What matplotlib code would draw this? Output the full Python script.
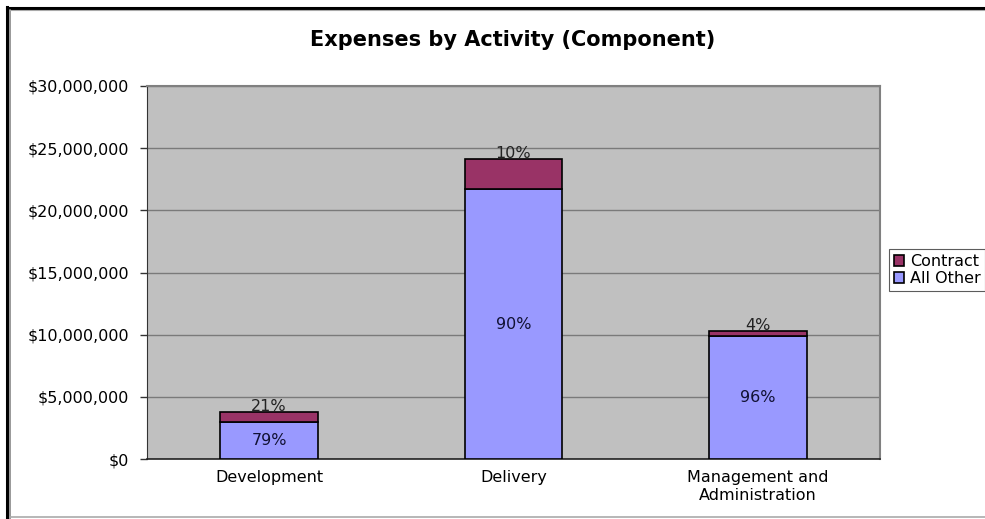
import matplotlib.pyplot as plt
from matplotlib.lines import Line2D
from matplotlib.ticker import FuncFormatter
import numpy as np

categories = ['Development', 'Delivery', 'Management and\nAdministration']
all_other = [3.0e6, 21.7e6, 9.9e6]
contract = [0.8e6, 2.4e6, 0.4e6]

plt.rcParams['font.family'] = ['DejaVu Sans']

fig = plt.figure(figsize=(9.85, 5.19), dpi=100)
ax = fig.add_axes([147 / 985, 1 - 459 / 519, 733 / 985, 373 / 519])
ax.set_facecolor('#C0C0C0')

x = np.arange(len(categories))
totals = np.array(all_other) + np.array(contract)
b1 = ax.bar(x, all_other, width=0.4, color='#9999FF', edgecolor='black',
            linewidth=1.2, label='All Other', zorder=3)
b2 = ax.bar(x, contract, width=0.4, bottom=all_other, color='#993366',
            edgecolor='black', linewidth=1.2, label='Contract', zorder=3)

# percentage labels: share inside the lower segment, contract share above the bar
for i in range(len(categories)):
    p_other = round(100 * all_other[i] / totals[i])
    p_con = round(100 * contract[i] / totals[i])
    ax.text(x[i], all_other[i] / 2, f'{p_other}%', ha='center', va='center',
            fontsize=11.5, color='#111133', zorder=4)
    ax.annotate(f'{p_con}%', (x[i], totals[i]), xytext=(0, -1.5),
                textcoords='offset points', ha='center', va='bottom',
                fontsize=11.5, color='#222222', zorder=4)

ax.set_xlim(-0.5, 2.5)
ax.set_ylim(0, 30e6)
ax.set_yticks(np.arange(0, 30e6 + 1, 5e6))
ax.yaxis.set_major_formatter(FuncFormatter(lambda v, p: f'${v:,.0f}'))
ax.set_xticks(x)
ax.set_xticklabels(categories, fontsize=11.5)
ax.tick_params(axis='y', labelsize=11.5, length=5, width=1, color='#333333', pad=8)
ax.tick_params(axis='x', length=0, pad=8)
ax.grid(axis='y', color='#7A7A7A', linewidth=1.0, zorder=1)
ax.set_axisbelow(True)
for s in ['top', 'right']:
    ax.spines[s].set_color('#808080')
    ax.spines[s].set_linewidth(1.5)
ax.spines['left'].set_color('#333333')
ax.spines['bottom'].set_color('#222222')
ax.spines['bottom'].set_linewidth(1.2)

fig.text(513 / 985, 1 - 40 / 519, 'Expenses by Activity (Component)',
         ha='center', va='center', fontsize=15, fontweight='bold')

leg = fig.legend([b2, b1], ['Contract', 'All Other'], loc='upper left',
                 bbox_to_anchor=(889 / 985, 1 - 249 / 519), fontsize=11.5,
                 frameon=True, fancybox=False, edgecolor='#333333',
                 handlelength=0.65, handleheight=0.65, handletextpad=0.35,
                 borderpad=0.3, labelspacing=0.15, borderaxespad=0)
leg.get_frame().set_linewidth(0.8)

# outer chart frame
W, H = 985, 519
fig.add_artist(Line2D([7 / W, 7 / W], [0, 1 - 7 / H], color='black', linewidth=2.2))
fig.add_artist(Line2D([7 / W, 1], [1 - 8 / H, 1 - 8 / H], color='black', linewidth=2.2))
fig.add_artist(Line2D([10 / W, 10 / W], [0, 1 - 10 / H], color='#888888', linewidth=1.2))
fig.add_artist(Line2D([10 / W, 1], [1 - 10 / H, 1 - 10 / H], color='#AAAAAA', linewidth=0.8))
fig.add_artist(Line2D([10 / W, 1], [1 - 517 / H, 1 - 517 / H], color='#AAAAAA', linewidth=1.2))

fig.savefig('out.png', dpi=100)
